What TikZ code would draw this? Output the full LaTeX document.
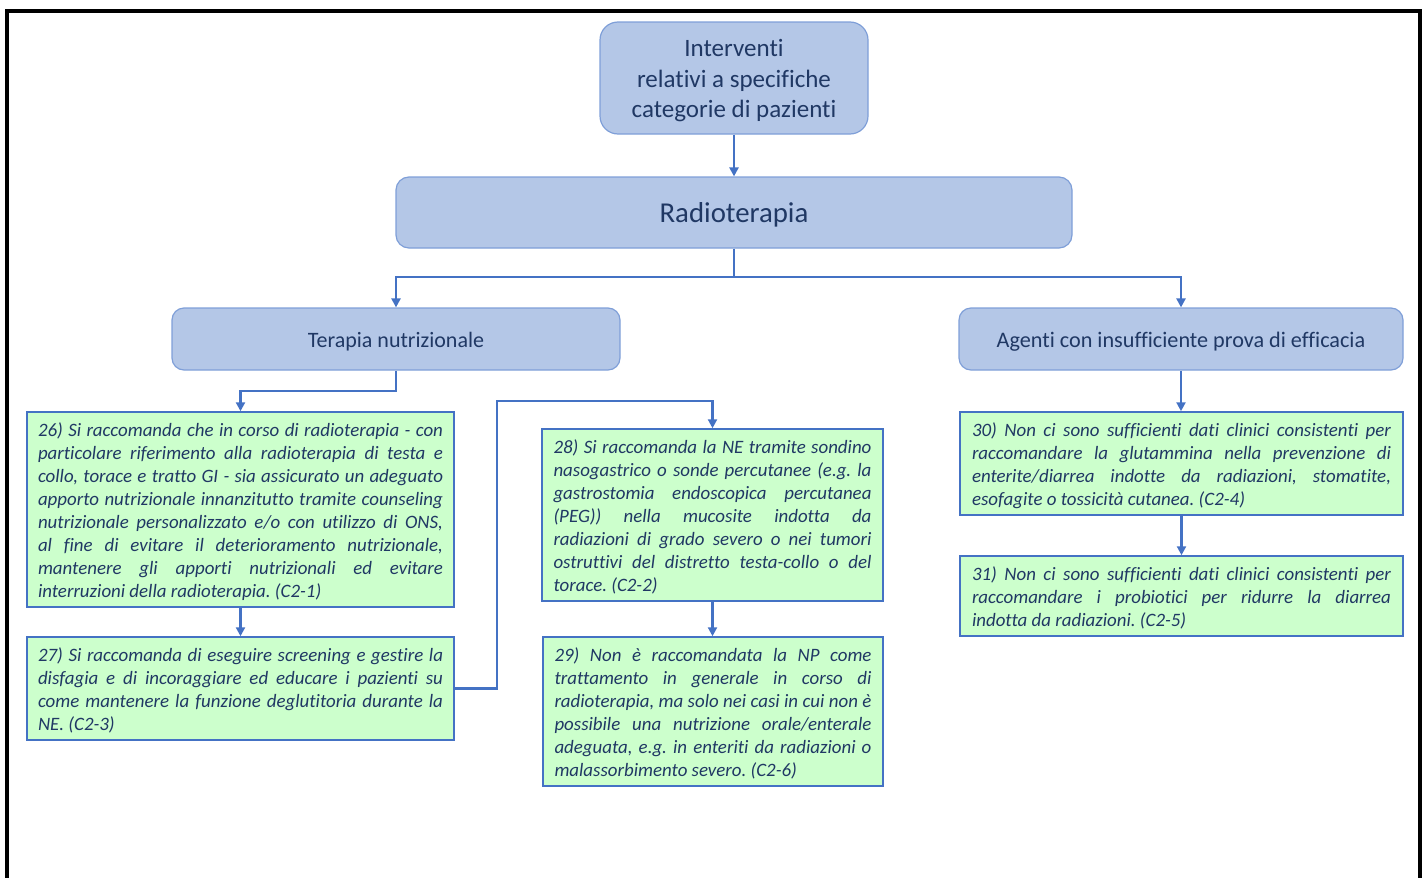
\documentclass[tikz,border=0pt]{standalone}
\usepackage{fontspec}
\setmainfont{Carlito}[Ligatures=NoCommon]
\usetikzlibrary{arrows.meta}
\definecolor{bfill}{HTML}{B4C7E7}
\definecolor{bdraw}{HTML}{7F9FD8}
\definecolor{gfill}{HTML}{CCFFCC}
\definecolor{gdraw}{HTML}{4472C4}
\definecolor{conncol}{HTML}{4472C4}
\definecolor{txt}{HTML}{203864}
\newcommand{\gtxt}[2]{\raisebox{-2pt}[\height][\depth]{\parbox{#1}{#2}}}
\newcommand{\btxt}[1]{\raisebox{-3pt}[\height][\depth]{\begin{tabular}{@{}c@{}}#1\end{tabular}}}
\frenchspacing
\tikzset{
  bluebox/.style={draw=bdraw, fill=bfill, line width=1.2pt, text=txt, align=center, inner sep=0pt},
  greenbox/.style={draw=gdraw, fill=gfill, line width=1.5pt, text=txt, inner sep=0pt,
     font=\fontsize{18.9}{23}\selectfont\itshape},
  conn/.style={draw=conncol, line width=2.6pt, -{Triangle[length=9pt,width=9pt]}},
  connline/.style={draw=conncol, line width=2.6pt},
  frame/.style={draw=black, line width=3.5pt}
}
\begin{document}
\begin{tikzpicture}[x=1pt,y=-1pt]
\useasboundingbox (0,0) rectangle (1427,878);
\draw[frame] (7,890) -- (7,11) -- (1420,11) -- (1420,890);

\node[bluebox, rounded corners=18pt, minimum width=268pt, minimum height=112pt,
      font=\fontsize{25}{30.5}\selectfont] (top) at (734,78)
  {\btxt{Interventi\\relativi a specifiche\\categorie di pazienti}};
\node[bluebox, rounded corners=13pt, minimum width=676pt, minimum height=71pt,
      font=\fontsize{28.8}{34}\selectfont] (radio) at (734,212.5) {\btxt{Radioterapia}};
\node[bluebox, rounded corners=12pt, minimum width=448pt, minimum height=62pt,
      font=\fontsize{22}{26}\selectfont] (ter) at (396,339) {\btxt{Terapia nutrizionale}};
\node[bluebox, rounded corners=12pt, minimum width=444pt, minimum height=62pt,
      font=\fontsize{22.2}{26}\selectfont] (age) at (1181,339) {\btxt{Agenti con insufficiente prova di efficacia}};

\node[greenbox, minimum width=427pt, minimum height=195pt] (b26) at (240.5,509.5)
  {\gtxt{405pt}{26) Si raccomanda che in corso di radioterapia - con\linebreak
   particolare riferimento alla radioterapia di testa e\linebreak
   collo, torace e tratto GI - sia assicurato un adeguato\linebreak
   apporto nutrizionale innanzitutto tramite counseling\linebreak
   nutrizionale personalizzato e/o con utilizzo di ONS,\linebreak
   al fine di evitare il deterioramento nutrizionale,\linebreak
   mantenere gli apporti nutrizionali ed evitare\linebreak
   interruzioni della radioterapia. (C2-1)}};
\node[greenbox, minimum width=427pt, minimum height=103pt] (b27) at (240.5,688.5)
  {\gtxt{405pt}{27) Si raccomanda di eseguire screening e gestire la\linebreak
   disfagia e di incoraggiare ed educare i pazienti su\linebreak
   come mantenere la funzione deglutitoria durante la\linebreak
   NE. (C2-3)}};
\node[greenbox, minimum width=341pt, minimum height=172pt] (b28) at (712.5,515)
  {\gtxt{318pt}{28) Si raccomanda la NE tramite sondino\linebreak
   nasogastrico o sonde percutanee (e.g. la\linebreak
   gastrostomia endoscopica percutanea\linebreak
   (PEG)) nella mucosite indotta da\linebreak
   radiazioni di grado severo o nei tumori\linebreak
   ostruttivi del distretto testa-collo o del\linebreak
   torace. (C2-2)}};
\node[greenbox, minimum width=340pt, minimum height=149pt] (b29) at (713,711.5)
  {\gtxt{317pt}{29) Non è raccomandata la NP come\linebreak
   trattamento in generale in corso di\linebreak
   radioterapia, ma solo nei casi in cui non è\linebreak
   possibile una nutrizione orale/enterale\linebreak
   adeguata, e.g. in enteriti da radiazioni o\linebreak
   malassorbimento severo. (C2-6)}};
\node[greenbox, minimum width=443pt, minimum height=103pt] (b30) at (1181.5,463.5)
  {\gtxt{419pt}{30) Non ci sono sufficienti dati clinici consistenti per\linebreak
   raccomandare la glutammina nella prevenzione di\linebreak
   enterite/diarrea indotte da radiazioni, stomatite,\linebreak
   esofagite o tossicità cutanea. (C2-4)}};
\node[greenbox, minimum width=443pt, minimum height=80pt] (b31) at (1181.5,596)
  {\gtxt{419pt}{31) Non ci sono sufficienti dati clinici consistenti per\linebreak
   raccomandare i probiotici per ridurre la diarrea\linebreak
   indotta da radiazioni. (C2-5)}};

\coordinate (j1) at (734,277);
\coordinate (j2) at (396,391);
\coordinate (j3) at (497,401);

\draw[conn] (top.south) -- (radio.north);
\draw[connline] (radio.south) -- (j1);
\draw[conn] (j1) -| (ter.north);
\draw[conn] (j1) -| (age.north);
\draw[conn] (ter.south) -- (j2) -| (b26.north);
\draw[conn] (b26.south) -- (b26.south |- b27.north);
\draw[conn] (b27.east) -| (j3) -| (b28.north);
\draw[conn] (b28.south) -- (b28.south |- b29.north);
\draw[conn] (age.south) -- (age.south |- b30.north);
\draw[conn] (b30.south) -- (b30.south |- b31.north);
\end{tikzpicture}
\end{document}
